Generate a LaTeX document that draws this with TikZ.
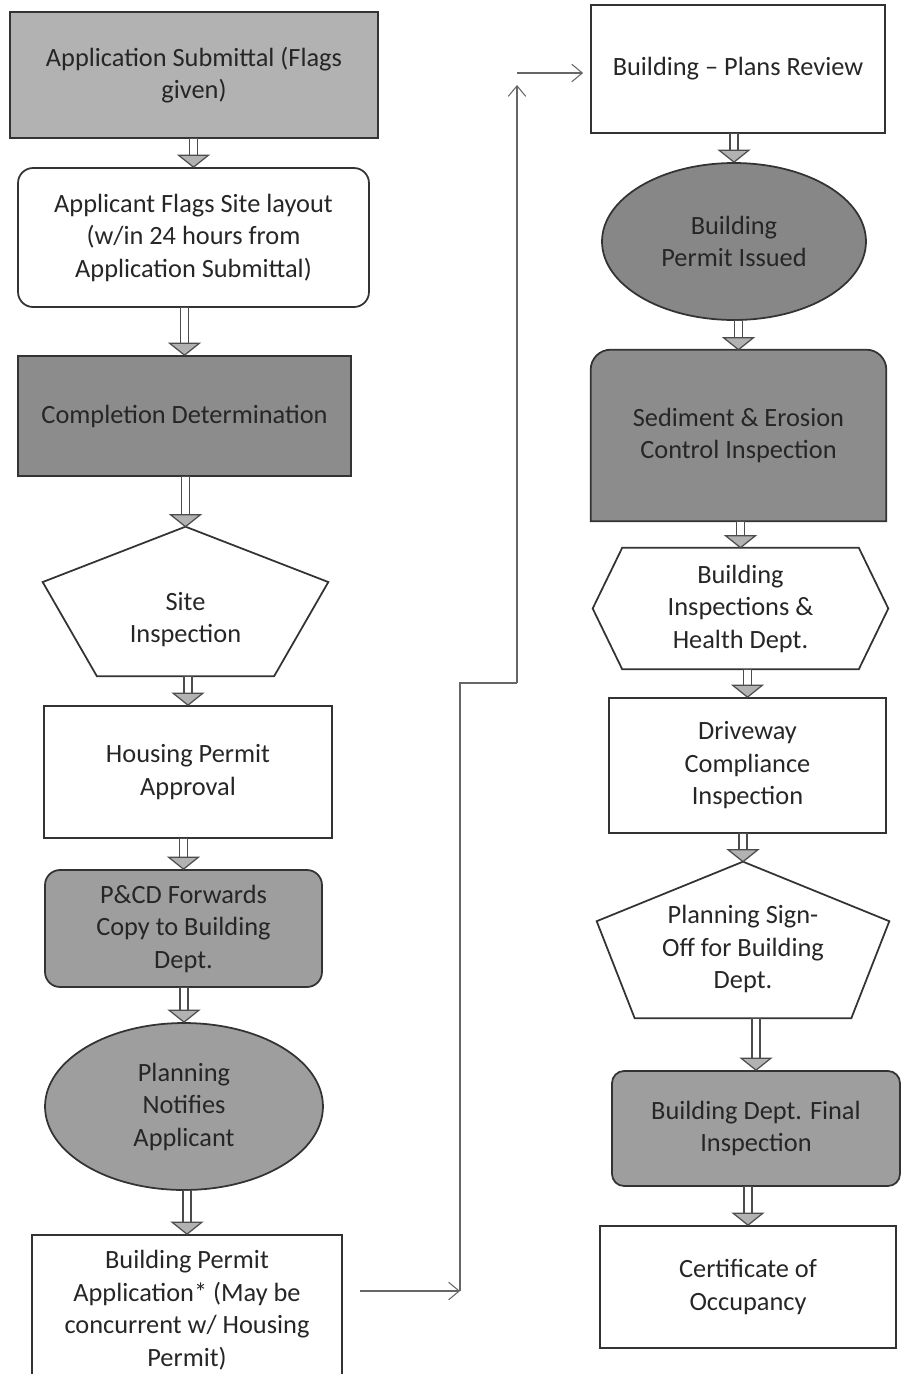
\documentclass[tikz,border=0pt]{standalone}
\usepackage{fontspec}
\setmainfont{Carlito}
\usetikzlibrary{shapes.geometric,calc,arrows.meta,backgrounds}

\tikzset{
  procbox/.style={draw=black!80, line width=1pt, inner sep=0pt, align=center,
    text=black!85, font=\fontsize{15}{18.5}\selectfont},
  shapebox/.style={inner sep=0pt, align=center, text=black!85,
    font=\fontsize{15}{18.5}\selectfont},
  outline/.style={draw=black!80, line width=1pt},
  shaftline/.style={draw=black!70, line width=0.7pt, fill=white},
  headline/.style={draw=black!70, line width=0.7pt, fill=black!30},
  link/.style={draw=black!60, line width=0.6pt},
  linktip/.style={link, -{Straight Barb[length=6pt, width=10pt]}}
}

% pentagon round a node: node, shoulder, bottom inset
\newcommand{\pentoutline}[3]{%
  \draw[outline] (#1.north) -- ($(#1.north west)!#2!(#1.south west)$)
    -- ($(#1.south west)!#3!(#1.south east)$) -- ($(#1.south east)!#3!(#1.south west)$)
    -- ($(#1.north east)!#2!(#1.south east)$) -- cycle;}
% long hexagon round a node
\newcommand{\hexoutline}[1]{%
  \draw[outline] (#1.west) -- ($(#1.north west)!0.1!(#1.north east)$)
    -- ($(#1.north east)!0.1!(#1.north west)$) -- (#1.east)
    -- ($(#1.south east)!0.1!(#1.south west)$) -- ($(#1.south west)!0.1!(#1.south east)$) -- cycle;}
% block arrow from one box down to the next
\newcommand{\flowarrow}[2]{%
  \coordinate (fa) at (#1.south -| #2.north);
  \coordinate (fb) at (#2.north);
  \draw[shaftline] ($(fa)+(-4,0)$) rectangle ($(fb)+(4,-12)$);
  \draw[headline] ($(fb)+(-15,-12)$) -- (fb) -- ($(fb)+(15,-12)$) -- cycle;}

\begin{document}
\begin{tikzpicture}[x=0.02cm, y=-0.02cm]
  \useasboundingbox (0,0) rectangle (901,1374);
  \clip (0,0) rectangle (901,1374);

  % Left column
  \node[procbox, fill=black!30, minimum width=7.36cm, minimum height=2.52cm] (submit) at (194,75) {Application Submittal (Flags\\given)};
  \node[procbox, rounded corners=0.3cm, minimum width=7.02cm, minimum height=2.78cm] (flags) at (193.5,237.5) {Applicant Flags Site layout\\(w/in 24 hours from\\Application Submittal)};
  \node[procbox, fill=black!45, minimum width=6.66cm, minimum height=2.40cm] (complete) at (184.5,416) {Completion Determination};
  \node[shapebox, minimum width=5.70cm, minimum height=2.98cm] (site) at (185.5,601.5) {};
  \pentoutline{site}{0.37}{0.19}
  \node[shapebox] (sitetext) at ([yshift=-0.36cm]site.center) {Site\\Inspection};
  \node[procbox, minimum width=5.76cm, minimum height=2.64cm] (housing) at (188,772) {Housing Permit\\Approval};
  \node[procbox, rounded corners=0.3cm, fill=black!38, minimum width=5.54cm, minimum height=2.34cm] (forward) at (183.5,928.5) {P\&CD Forwards\\Copy to Building\\Dept.};
  \node[procbox, ellipse, fill=black!38, minimum width=5.56cm, minimum height=3.34cm] (notify) at (184,1106.5) {Planning\\Notifies\\Applicant};
  \node[procbox, minimum width=6.20cm, minimum height=3.00cm] (bpapp) at (187,1310) {Building Permit\\Application* (May be\\concurrent w/ Housing\\Permit)};

  % Right column
  \node[procbox, minimum width=5.88cm, minimum height=2.56cm] (plans) at (738,69) {Building -- Plans Review};
  \node[procbox, ellipse, fill=black!47, minimum width=5.28cm, minimum height=3.14cm] (issued) at (734,241.5) {Building\\Permit Issued};
  \node[shapebox, minimum width=5.90cm, minimum height=3.42cm] (erosion) at (738.5,435.5) {Sediment \& Erosion\\Control Inspection};
  \begin{scope}[on background layer]
    \draw[outline, fill=black!45] (erosion.south) -- (erosion.south west) [rounded corners=0.4cm] -- (erosion.north west) -- (erosion.north east) [sharp corners] -- (erosion.south east) -- cycle;
  \end{scope}
  \node[shapebox, minimum width=5.90cm, minimum height=2.42cm] (inspect) at (740.5,608.5) {Building\\Inspections \&\\Health Dept.};
  \hexoutline{inspect}
  \node[procbox, minimum width=5.54cm, minimum height=2.70cm] (driveway) at (747.5,765.5) {Driveway\\Compliance\\Inspection};
  \node[shapebox, minimum width=5.84cm, minimum height=3.12cm] (signoff) at (743,940) {};
  \pentoutline{signoff}{0.38}{0.13}
  \node[shapebox] (signofftext) at ([yshift=-0.18cm]signoff.center) {Planning Sign-\\Off for Building\\Dept.};
  \node[procbox, rounded corners=0.24cm, fill=black!38, minimum width=5.76cm, minimum height=2.30cm] (final) at (756,1128.5) {Building Dept. Final\\Inspection};
  \node[procbox, minimum width=5.92cm, minimum height=2.44cm] (cert) at (748,1287) {Certificate of\\Occupancy};

  % Block arrows
  \flowarrow{submit}{flags}
  \flowarrow{flags}{complete}
  \flowarrow{complete}{site}
  \flowarrow{site}{housing}
  \flowarrow{housing}{forward}
  \flowarrow{forward}{notify}
  \flowarrow{notify}{bpapp}
  \flowarrow{plans}{issued}
  \flowarrow{issued}{erosion}
  \flowarrow{erosion}{inspect}
  \flowarrow{inspect}{driveway}
  \flowarrow{driveway}{signoff}
  \flowarrow{signoff}{final}
  \flowarrow{final}{cert}

  % Link across to plans review
  \coordinate (linkstart) at (360,1291);
  \coordinate (bendA) at (460,1291);
  \coordinate (bendB) at (460,683);
  \coordinate (bendC) at (517,683);
  \coordinate (bendD) at (517,85);
  \coordinate (bendE) at (517,73);
  \draw[linktip] (linkstart) -- (bendA);
  \draw[link] (bendA) -- (bendB) -- (bendC);
  \draw[linktip] (bendC) -- (bendD);
  \draw[linktip, shorten >=4pt] (bendE) -- (bendE -| plans.west);
\end{tikzpicture}
\end{document}
